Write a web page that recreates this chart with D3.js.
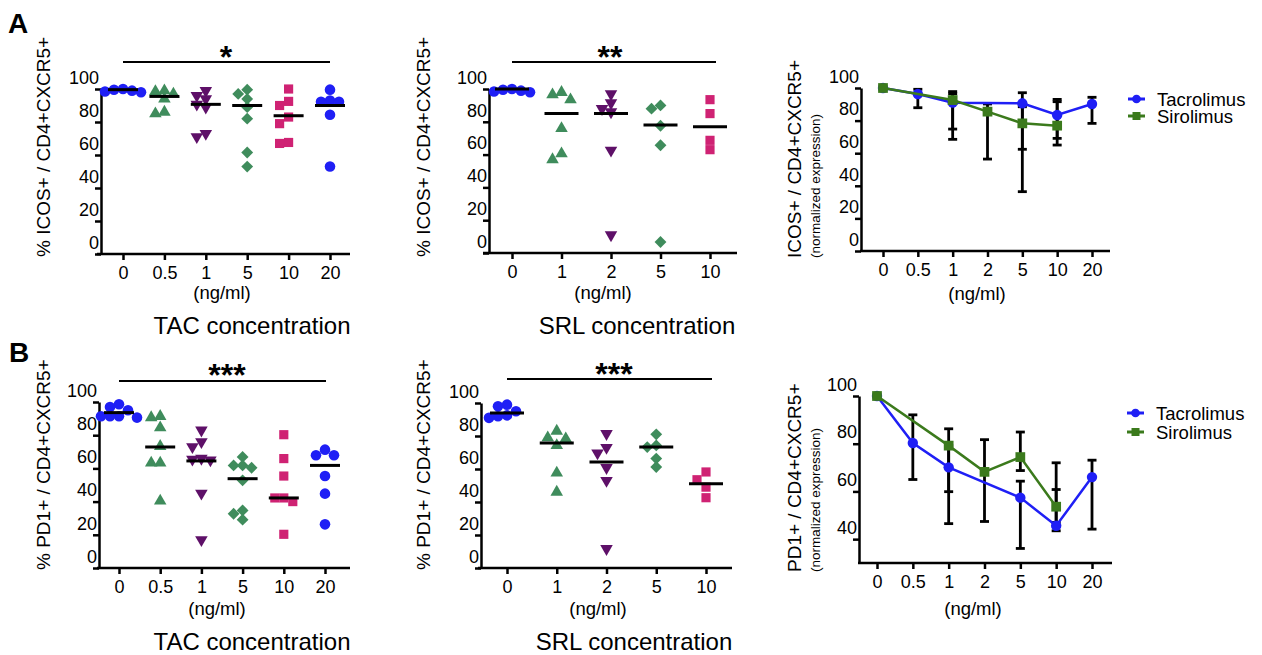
<!DOCTYPE html>
<html>
<head>
<meta charset="utf-8">
<script src="https://cdn.jsdelivr.net/npm/d3@7"></script>
<style>
  body { margin: 0; background: #fff; }
</style>
</head>
<body>
<svg id="chart" width="1262" height="655"></svg>
<script>
// concentrations (ng/ml)
let tacConc = ['0', '0.5', '1', '5', '10', '20'];
let srlConc = ['0', '1', '2', '5', '10'];
let lineConc = ['0', '0.5', '1', '2', '5', '10', '20'];

// A: % ICOS+ / CD4+CXCR5+, one array per concentration
let icosTac = [
  [98.5, 99, 100, 99.5, 98],
  [98.5, 99, 97, 94, 85, 86],
  [99, 96, 94, 90.7, 89, 71, 73],
  [94, 97, 99.6, 89, 82, 61.5, 53],
  [100, 92.5, 90, 83, 79, 67, 67.6],
  [99.6, 93, 92.3, 92.3, 84.4, 53]
];
let icosTacMid = [99.6, 95.5, 90.7, 90, 83.8, 90];

let icosSrl = [
  [98.5, 99, 100, 99.5, 98],
  [98, 93.5, 96.5, 76, 57, 60.6],
  [97, 91.5, 88, 86, 62.6, 11],
  [90, 88, 77.6, 65.7, 6.7],
  [93.5, 85, 68.7, 63]
];
let icosSrlMid = [100, 85, 85, 78, 77];

// B: % PD1+ / CD4+CXCR5+
let pd1Tac = [
  [98.6, 97, 95, 91.4, 90.6, 91.4, 91.4],
  [90.6, 91.4, 84.5, 73.3, 63.3, 63.3, 40.4],
  [83, 76, 73, 66, 65, 65.5, 45, 17],
  [66.9, 61.8, 60.4, 61.8, 52.8, 34.7, 32.7, 29.1],
  [80.3, 65.9, 55.4, 42.2, 40, 42.2, 20.3],
  [67.9, 67.9, 71.3, 55.4, 44.8, 26.3]
];
let pd1TacMid = [93.6, 72.9, 64.5, 53.8, 42.2, 61.8];

let pd1Srl = [
  [99, 98, 92.5, 91, 92, 95],
  [83, 79, 78.4, 74.3, 57.6, 46],
  [81.4, 69.7, 73, 60.8, 53, 11.7],
  [81, 74.3, 73.3, 66.3, 61.2],
  [58.2, 53.5, 49, 42.6]
];
let pd1SrlMid = [94, 75.8, 64.2, 73.3, 51.1];

// normalized expression, mean with error bar ends
let icosTacMean = [100, 96.3, 91, 90.6, 83.4, 90.2];
let icosTacLow = [null, 87.9, 68.5, 62.4, 69.1, 78.3];
let icosTacHigh = [null, 99.2, 96.5, 97.1, 93, 94.3];
let icosSrlMean = [100, 92.6, 85.5, 78.3, 76.9];
let icosSrlLow = [null, 74.8, 56.4, 36.4, 65];
let icosSrlHigh = [null, 97.8, 90.2, 88.5, 91.6];

let pd1TacMean = [100, 80.3, 70.1, 57.4, 45.6, 66];
let pd1TacLow = [null, 65, 46.5, 36.1, 43.5, 44.2];
let pd1TacHigh = [null, 92.1, 79.2, 64.3, 60.8, 73.1];
let pd1SrlMean = [100, 79.2, 68.2, 74.4, 53.6];
let pd1SrlLow = [null, 59.9, 47.4, 68.75, 47];
let pd1SrlHigh = [null, 86.25, 81.7, 84.9, 72];

let FONT = '"Liberation Sans", Arial, sans-serif';
let BLUE = '#1f1ff5';
let GREEN = '#3f8c5c';
let PURPLE = '#5e1068';
let MAGENTA = '#cf2273';
let LINEGREEN = '#3b7a1c';

let svg = d3.select('#chart');
svg.append('rect').attr('width', 1262).attr('height', 655).attr('fill', '#fff');

let addText = (txt, x, y, size, opts) => {
  opts = opts || {};
  let t = svg
    .append('text')
    .text(txt)
    .attr('x', x)
    .attr('y', y)
    .attr('font-family', FONT)
    .attr('font-size', size)
    .attr('fill', '#000')
    .attr('text-anchor', opts.anchor || 'middle');
  if (opts.bold) t.attr('font-weight', 'bold');
  return t;
};

let rotLabel = (txt, cx, bottom, size) => {
  svg
    .append('text')
    .text(txt)
    .attr('transform', 'translate(' + cx + ',' + bottom + ') rotate(-90)')
    .attr('dy', '0.35em')
    .attr('font-family', FONT)
    .attr('font-size', size)
    .attr('text-anchor', 'start')
    .attr('fill', '#000');
};

let drawYAxis = (y, ticks, x0) => {
  let ax = svg
    .append('g')
    .attr('transform', 'translate(' + x0 + ',0)')
    .call(d3.axisLeft(y).tickValues(ticks).tickSize(6).tickSizeOuter(0));
  ax.attr('font-family', FONT).attr('font-size', 18);
  ax.select('.domain').attr('stroke-width', 2.5);
  ax.selectAll('.tick line').attr('stroke-width', 2.5);
  ax.selectAll('.tick text').attr('x', -2).attr('y', -11.5).attr('fill', '#000');
};

let drawXAxis = (x, yb, x0, x1) => {
  let ax = svg
    .append('g')
    .attr('transform', 'translate(0,' + yb + ')')
    .call(d3.axisBottom(x).tickSize(6).tickSizeOuter(0));
  ax.attr('font-family', FONT).attr('font-size', 18);
  ax.select('.domain').remove();
  ax.selectAll('.tick line').attr('stroke-width', 2.5);
  ax.selectAll('.tick text').attr('y', 12).attr('fill', '#000');
  svg
    .append('line')
    .attr('x1', x0)
    .attr('x2', x1)
    .attr('y1', yb)
    .attr('y2', yb)
    .attr('stroke', '#000')
    .attr('stroke-width', 2.5);
};

// spread points sideways so they don't sit on top of each other
let dodge = (values, y, step, minDy) => {
  let sorted = values.slice().sort((a, b) => b - a);
  let placed = [];
  sorted.forEach((v) => {
    let py = y(v);
    for (let k = 0; k < 20; k++) {
      let off = k === 0 ? 0 : (k % 2 === 1 ? -1 : 1) * Math.ceil(k / 2) * step;
      let ok = placed.every((p) => Math.abs(p.py - py) >= minDy || Math.abs(p.px - off) >= step * 0.99);
      if (ok) {
        placed.push({ v: v, px: off, py: py });
        break;
      }
    }
  });
  return placed;
};

let symbolPath = (shape) => {
  if (shape === 'circle') return d3.symbol(d3.symbolCircle, 88)();
  if (shape === 'square') return d3.symbol(d3.symbolSquare, 84)();
  if (shape === 'diamond') return d3.symbol(d3.symbolSquare, 70)();
  return d3.symbol(d3.symbolTriangle, 68)();
};
let symbolRot = (shape) => {
  if (shape === 'diamond') return 45;
  if (shape === 'down') return 180;
  return 0;
};

let scatterPanel = (cfg) => {
  let y = d3.scaleLinear().domain([0, 100]).range([cfg.yb, cfg.yt]);
  let x = d3.scalePoint().domain(cfg.cats).range(cfg.xr);

  drawYAxis(y, d3.range(0, 101, 20), cfg.yAxisX);
  drawXAxis(x, cfg.yb, cfg.x0, cfg.x1);

  cfg.groups.forEach((vals, i) => {
    let pts = dodge(vals, y, 9, 8);
    let cx = x(cfg.cats[i]);
    svg
      .append('g')
      .selectAll('path')
      .data(pts)
      .enter()
      .append('path')
      .attr('d', symbolPath(cfg.shapes[i]))
      .attr('transform', (p) => {
        return 'translate(' + (cx + p.px) + ',' + p.py + ') rotate(' + symbolRot(cfg.shapes[i]) + ')';
      })
      .attr('fill', cfg.colors[i]);
    svg
      .append('line')
      .attr('x1', cx - cfg.half)
      .attr('x2', cx + cfg.half)
      .attr('y1', y(cfg.mids[i]))
      .attr('y2', y(cfg.mids[i]))
      .attr('stroke', '#000')
      .attr('stroke-width', 3);
  });

  // significance bar
  let first = x(cfg.cats[0]);
  let last = x(cfg.cats[cfg.cats.length - 1]);
  svg
    .append('line')
    .attr('x1', first)
    .attr('x2', last + cfg.sigExtra)
    .attr('y1', cfg.sigY)
    .attr('y2', cfg.sigY)
    .attr('stroke', '#000')
    .attr('stroke-width', 2);
  addText(cfg.stars, cfg.starX, cfg.starY, 32, { bold: true });

  rotLabel(cfg.yLabel, cfg.labelX, cfg.labelBottom, 19);
  addText('(ng/ml)', cfg.unitX, cfg.unitY, 18.5);
  addText(cfg.title, cfg.titleX, cfg.titleY, 24);
};

let linePanel = (cfg) => {
  let y = d3.scaleLinear().domain(cfg.domain).range([cfg.yb, cfg.yt]);
  let x = d3.scalePoint().domain(lineConc).range(cfg.xr);

  drawYAxis(y, cfg.ticks, cfg.yAxisX);
  drawXAxis(x, cfg.yb, cfg.x0, cfg.x1);

  let series = [
    { conc: tacConc, mean: cfg.tac[0], low: cfg.tac[1], high: cfg.tac[2], color: BLUE, shape: 'circle' },
    { conc: srlConc, mean: cfg.srl[0], low: cfg.srl[1], high: cfg.srl[2], color: LINEGREEN, shape: 'square' }
  ];

  // error bars
  series.forEach((s) => {
    s.conc.forEach((c, i) => {
      if (s.low[i] === null) return;
      let cx = x(c);
      let bar = svg.append('g').attr('stroke', '#000').attr('stroke-width', 2.8);
      bar.append('line').attr('x1', cx).attr('x2', cx).attr('y1', y(s.low[i])).attr('y2', y(s.high[i]));
      [s.low[i], s.high[i]].forEach((v) => {
        bar.append('line').attr('x1', cx - 4.5).attr('x2', cx + 4.5).attr('y1', y(v)).attr('y2', y(v));
      });
    });
  });

  series.forEach((s) => {
    let line = d3
      .line()
      .x((d, i) => x(s.conc[i]))
      .y((d) => y(d));
    svg
      .append('path')
      .attr('d', line(s.mean))
      .attr('fill', 'none')
      .attr('stroke', s.color)
      .attr('stroke-width', 2.5);
    svg
      .append('g')
      .selectAll('path')
      .data(s.mean)
      .enter()
      .append('path')
      .attr('d', s.shape === 'circle' ? d3.symbol(d3.symbolCircle, 85)() : d3.symbol(d3.symbolSquare, 95)())
      .attr('transform', (d, i) => 'translate(' + x(s.conc[i]) + ',' + y(d) + ')')
      .attr('fill', s.color);
  });

  // legend
  series.forEach((s, i) => {
    let ly = cfg.legY[i];
    svg
      .append('line')
      .attr('x1', cfg.legX)
      .attr('x2', cfg.legX + 17)
      .attr('y1', ly)
      .attr('y2', ly)
      .attr('stroke', s.color)
      .attr('stroke-width', 3);
    svg
      .append('path')
      .attr('d', s.shape === 'circle' ? d3.symbol(d3.symbolCircle, 60)() : d3.symbol(d3.symbolSquare, 64)())
      .attr('transform', 'translate(' + (cfg.legX + 8.5) + ',' + ly + ')')
      .attr('fill', s.color);
    addText(i === 0 ? 'Tacrolimus' : 'Sirolimus', cfg.legX + 29, ly + 6.5, 18.5, { anchor: 'start' });
  });

  rotLabel(cfg.yLabel, 794, cfg.labelBottom, 19);
  rotLabel('(normalized expression)', 815, cfg.labelBottom, 13.5);
  addText('(ng/ml)', cfg.unitX, cfg.unitY, 18.5);
};

let tacColors = [BLUE, GREEN, PURPLE, GREEN, MAGENTA, BLUE];
let tacShapes = ['circle', 'triangle', 'down', 'diamond', 'square', 'circle'];
let srlColors = [BLUE, GREEN, PURPLE, GREEN, MAGENTA];
let srlShapes = ['circle', 'triangle', 'down', 'diamond', 'square'];

// row A
scatterPanel({
  cats: tacConc, groups: icosTac, mids: icosTacMid, colors: tacColors, shapes: tacShapes,
  yt: 89, yb: 254, xr: [123, 330], x0: 97, x1: 350, yAxisX: 101, half: 15,
  sigY: 62, sigExtra: 0, stars: '*', starX: 226, starY: 68,
  yLabel: '% ICOS+ / CD4+CXCR5+', labelX: 43, labelBottom: 257,
  unitX: 222, unitY: 299, title: 'TAC concentration', titleX: 252, titleY: 334
});
scatterPanel({
  cats: srlConc, groups: icosSrl, mids: icosSrlMid, colors: srlColors, shapes: srlShapes,
  yt: 89, yb: 253, xr: [512, 710], x0: 483, x1: 737, yAxisX: 489, half: 17,
  sigY: 62, sigExtra: 6, stars: '**', starX: 610, starY: 68,
  yLabel: '% ICOS+ / CD4+CXCR5+', labelX: 423, labelBottom: 257,
  unitX: 603, unitY: 299, title: 'SRL concentration', titleX: 637, titleY: 334
});
linePanel({
  domain: [0, 100], ticks: d3.range(0, 101, 20), yt: 88, yb: 251, xr: [883, 1092],
  x0: 860, x1: 1110, yAxisX: 861,
  tac: [icosTacMean, icosTacLow, icosTacHigh], srl: [icosSrlMean, icosSrlLow, icosSrlHigh],
  legX: 1128, legY: [99, 116],
  yLabel: 'ICOS+ / CD4+CXCR5+', labelBottom: 258, unitX: 977, unitY: 300
});

// row B
scatterPanel({
  cats: tacConc, groups: pd1Tac, mids: pd1TacMid, colors: tacColors, shapes: tacShapes,
  yt: 402, yb: 568, xr: [119, 325], x0: 97, x1: 350, yAxisX: 99, half: 15,
  sigY: 381, sigExtra: 1, stars: '***', starX: 227, starY: 386,
  yLabel: '% PD1+ / CD4+CXCR5+', labelX: 43, labelBottom: 570,
  unitX: 217, unitY: 615, title: 'TAC concentration', titleX: 252, titleY: 650
});
scatterPanel({
  cats: srlConc, groups: pd1Srl, mids: pd1SrlMid, colors: srlColors, shapes: srlShapes,
  yt: 403, yb: 568, xr: [507, 706], x0: 478, x1: 732, yAxisX: 481, half: 17,
  sigY: 379, sigExtra: 6, stars: '***', starX: 614, starY: 385,
  yLabel: '% PD1+ / CD4+CXCR5+', labelX: 423, labelBottom: 570,
  unitX: 598, unitY: 615, title: 'SRL concentration', titleX: 634, titleY: 650
});
linePanel({
  domain: [30, 100], ticks: [40, 60, 80, 100], yt: 396, yb: 563, xr: [877, 1092],
  x0: 858, x1: 1112, yAxisX: 859,
  tac: [pd1TacMean, pd1TacLow, pd1TacHigh], srl: [pd1SrlMean, pd1SrlLow, pd1SrlHigh],
  legX: 1127, legY: [413, 432],
  yLabel: 'PD1+ / CD4+CXCR5+', labelBottom: 572, unitX: 973, unitY: 615
});

// panel letters
addText('A', 8, 33, 28, { anchor: 'start', bold: true });
addText('B', 9, 362, 28, { anchor: 'start', bold: true });
</script>
</body>
</html>
